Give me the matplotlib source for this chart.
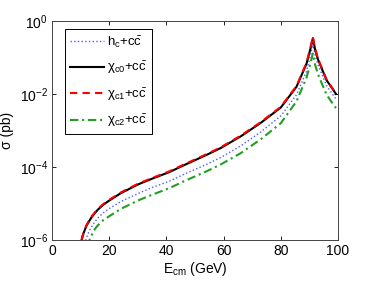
import numpy as np
import matplotlib
import matplotlib.pyplot as plt
from matplotlib.ticker import FixedLocator, NullLocator

matplotlib.use('agg')

plt.rcParams['font.family'] = ['Liberation Sans', 'DejaVu Sans']
plt.rcParams['mathtext.fontset'] = 'custom'
plt.rcParams['mathtext.rm'] = 'Liberation Sans'
plt.rcParams['mathtext.it'] = 'Liberation Sans:italic'
plt.rcParams['mathtext.sf'] = 'Liberation Sans'

### data (cross sections given as log10 of sigma in pb)
e_cm = [9.5, 10, 11, 12, 13, 14, 15, 16, 18, 20, 24, 30, 35, 41, 47, 54, 59,
        66, 73, 80, 85.5, 89, 90.5, 91.2, 92, 93, 96, 99.3]

log_chi_c0 = [-6.35, -6.1, -5.82, -5.62, -5.48, -5.36, -5.26, -5.17, -5.03, -4.92,
              -4.72, -4.48, -4.32, -4.14, -3.92, -3.67, -3.48, -3.16, -2.79, -2.37,
              -1.80, -1.17, -0.72, -0.47, -0.78, -1.05, -1.62, -2.00]
log_chi_c1 = [-6.33, -6.08, -5.8, -5.6, -5.46, -5.34, -5.24, -5.15, -5.01, -4.9,
              -4.7, -4.46, -4.3, -4.12, -3.9, -3.65, -3.46, -3.14, -2.77, -2.35,
              -1.78, -1.14, -0.68, -0.43, -0.75, -1.03, -1.6, -1.99]
log_h_c = [-6.9, -6.6, -6.25, -5.95, -5.75, -5.62, -5.5, -5.4, -5.25, -5.14,
           -4.95, -4.73, -4.56, -4.39, -4.17, -3.93, -3.74, -3.42, -3.04, -2.6,
           -2.02, -1.38, -0.9, -0.62, -0.93, -1.2, -1.77, -2.14]
log_chi_c2 = [-7.5, -7.2, -6.7, -6.3, -6.02, -5.84, -5.7, -5.6, -5.45, -5.35,
              -5.15, -4.92, -4.76, -4.58, -4.36, -4.12, -3.93, -3.62, -3.24, -2.8,
              -2.2, -1.55, -1.12, -0.89, -1.2, -1.46, -2.02, -2.39]

labels = [r'h$_{\rm c}$+c$\bar{\rm c}$',
          r'χ$_{\rm c0}$+c$\bar{\rm c}$',
          r'χ$_{\rm c1}$+c$\bar{\rm c}$',
          r'χ$_{\rm c2}$+c$\bar{\rm c}$']

fig = plt.figure(figsize=(3.74, 2.81), dpi=100)
fig.subplots_adjust(left=52/374, right=338/374, top=1-21/281, bottom=1-240/281)
ax = fig.add_subplot(111)

x = np.array(e_cm)
ax.plot(x, 10**np.array(log_h_c), ':', color='#4a5cff', lw=1.0, label=labels[0])
ax.plot(x, 10**np.array(log_chi_c0), '-', color='black', lw=1.5, label=labels[1])
ax.plot(x, 10**np.array(log_chi_c1), '--', color='red', lw=1.5, dashes=(3.5, 2.5), label=labels[2])
ax.plot(x, 10**np.array(log_chi_c2), '-.', color='#20a020', lw=1.5, dashes=(4, 1.8, 1, 1.8), label=labels[3])

ax.set_yscale('log')
ax.set_xlim(0, 100)
ax.set_ylim(1e-6, 1)
ax.yaxis.set_major_locator(FixedLocator([1e-6, 1e-4, 1e-2, 1]))
ax.yaxis.set_minor_locator(NullLocator())
ax.set_xticks([0, 20, 40, 60, 80, 100])

ax.tick_params(direction='in', length=3, width=0.6, top=True, right=True, labelsize=10, pad=3)
for s in ax.spines.values():
    s.set_linewidth(0.7)
    s.set_color('#444444')

ax.set_xlabel(r'E$_{\rm cm}$ (GeV)', fontsize=10, labelpad=1)
ax.set_ylabel(r'σ (pb)', fontsize=10, labelpad=4)

leg = ax.legend(loc='upper left', bbox_to_anchor=(0.045, 0.963), borderaxespad=0,
                fontsize=9.5, frameon=True, fancybox=False, edgecolor='black',
                framealpha=1, handlelength=2.6, labelspacing=0.75, handletextpad=0.2,
                borderpad=0.4)
leg.get_frame().set_linewidth(0.7)

plt.savefig('out.png', dpi=100)
